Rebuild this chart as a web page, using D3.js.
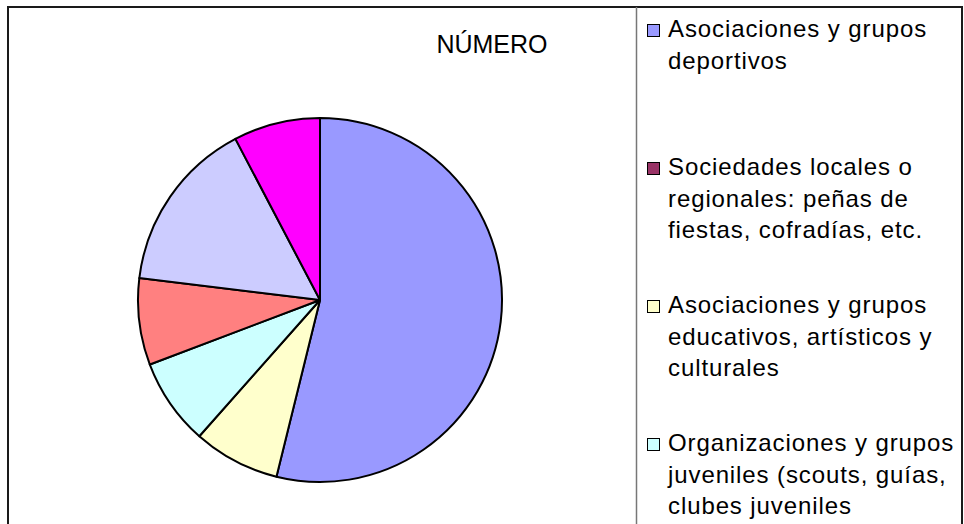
<!DOCTYPE html>
<html>
<head>
<meta charset="utf-8">
<script src="https://cdn.jsdelivr.net/npm/d3@7"></script>
<style>
  body { margin: 0; background: #fff; }
  svg { display: block; font-family: "Liberation Sans", Arial, sans-serif; }
</style>
</head>
<body>
<svg width="964" height="524"></svg>
<script>
// data (13 in total)
var categories = [
  "Asociaciones y grupos deportivos",
  "Sociedades locales o regionales: peñas de fiestas, cofradías, etc.",
  "Asociaciones y grupos educativos, artísticos y culturales",
  "Organizaciones y grupos juveniles (scouts, guías, clubes juveniles",
  "Otras asociaciones",
  "Asociaciones vecinales",
  "Otros grupos"
];
var values = [7, 0, 1, 1, 1, 2, 1];
var colors = ["#9999ff", "#993366", "#ffffcc", "#ccffff", "#ff8080", "#ccccff", "#ff00ff"];
var title = "NÚMERO";

var svg = d3.select("svg");
var width = +svg.attr("width");
var height = +svg.attr("height");

var data = categories.map(function(c, i) { return {name: c, value: values[i]}; });

// frame
svg.append("rect")
   .attr("x", 8).attr("y", 7)
   .attr("width", 954).attr("height", 600)
   .attr("fill", "none")
   .attr("stroke", "#1a1a1a")
   .attr("stroke-width", 2);
svg.append("line")
   .attr("x1", 636.5).attr("x2", 636.5)
   .attr("y1", 7).attr("y2", height)
   .attr("stroke", "#777")
   .attr("stroke-width", 1.5);

// title
svg.append("text")
   .attr("x", 492).attr("y", 53)
   .attr("text-anchor", "middle")
   .style("font-size", "25px")
   .text(title);

// pie
var radius = 182;
var color = d3.scaleOrdinal().domain(categories).range(colors);
var pie = d3.pie().sort(null).value(function(d) { return d.value; });
var arc = d3.arc().innerRadius(0).outerRadius(radius);

var g = svg.append("g").attr("transform", "translate(320,300)");
g.selectAll("path")
 .data(pie(data).filter(function(d) { return d.data.value > 0; }))
 .enter().append("path")
 .attr("d", arc)
 .attr("fill", function(d) { return color(d.data.name); })
 .attr("stroke", "#000")
 .attr("stroke-width", 2)
 .attr("stroke-linejoin", "round");

// legend
var legendY = d3.scaleLinear().domain([0, 1]).range([37, 175]);
var lineH = 31.7, maxW = 292;

var items = svg.append("g").selectAll("g")
  .data(data).enter().append("g")
  .attr("transform", function(d, i) { return "translate(0," + legendY(i) + ")"; });

items.append("rect")
  .attr("x", 647.5).attr("y", -12.5)
  .attr("width", 12).attr("height", 12)
  .attr("fill", function(d) { return color(d.name); })
  .attr("stroke", "#000")
  .attr("stroke-width", 1);

items.each(function(d) {
  var t = d3.select(this).append("text")
    .attr("x", 668).attr("y", 0)
    .style("font-size", "24px")
    .style("letter-spacing", "0.9px");
  var words = d.name.split(" ");
  var line = [], n = 0;
  var ts = t.append("tspan").attr("x", 668).attr("dy", 0);
  words.forEach(function(w) {
    line.push(w);
    ts.text(line.join(" "));
    if (ts.node().getComputedTextLength() > maxW && line.length > 1) {
      line.pop();
      ts.text(line.join(" "));
      line = [w];
      n++;
      ts = t.append("tspan").attr("x", 668).attr("y", n * lineH).text(w);
    }
  });
});
</script>
</body>
</html>
